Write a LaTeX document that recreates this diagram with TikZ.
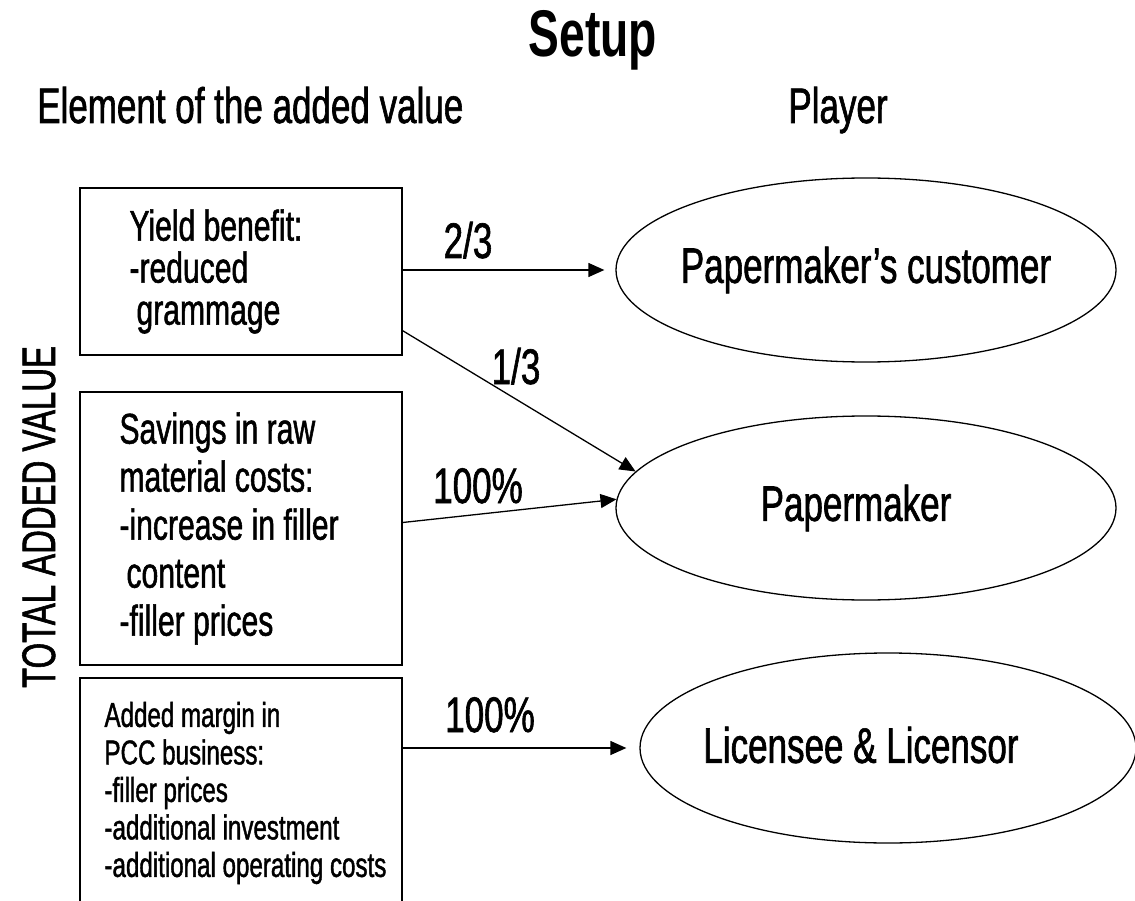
\documentclass[tikz,border=0pt]{standalone}
\usepackage{fontspec}
\setmainfont{Liberation Sans}[FakeStretch=0.7,UprightFeatures={FakeBold=1.2}]
\usetikzlibrary{arrows.meta,shapes.geometric,calc}

\tikzset{
  head/.style={inner sep=0pt,font=\fontsize{50}{55}\selectfont},
  elbox/.style={draw,line width=1.4pt,minimum width=322pt,inner sep=0pt},
  boxtxt/.style={anchor=west,align=left,inner sep=0pt},
  player/.style={draw,ellipse,line width=1.3pt,minimum width=500pt,minimum height=184pt,
    inner sep=0pt,font=\fontsize{50}{55}\selectfont},
  share/.style={-{Triangle[length=16pt,width=14pt]},line width=1.3pt},
  sharelbl/.style={anchor=base,inner sep=0pt,font=\fontsize{50}{55}\selectfont}
}

\begin{document}
\begin{tikzpicture}[x=1pt,y=-1pt]
\useasboundingbox (0,0) rectangle (1135,901);
\clip (0,0) rectangle (1135,901);

% titles
\node[head,anchor=base,font=\bfseries\fontsize{66}{70}\selectfont] (title) at (593,57) {Setup};
\node[head,anchor=base west] (elhead) at (37,123) {Element of the added value};
\node[head,anchor=base] (plhead) at (838,123) {Player};
\node[head,rotate=90,anchor=base,font=\fontsize{47}{50}\selectfont] (total) at (55,517) {TOTAL ADDED VALUE};

% elements
\node[elbox,minimum height=167pt] (yield) at (241,271.5) {};
\node[elbox,minimum height=273pt] (savings) at (241,528.5) {};
\node[elbox,minimum height=230pt] (margin) at (241,793) {};

\node[boxtxt,font=\fontsize{43}{42}\selectfont] (yieldtxt) at ([xshift=50pt]yield.west)
  {Yield benefit:\\-reduced\\\hspace*{7pt}grammage};
\node[boxtxt,font=\fontsize{43}{48}\selectfont] (savingstxt) at ([xshift=40pt]savings.west)
  {Savings in raw\\material costs:\\-increase in filler\\\hspace*{7pt}content\\-filler prices};
\node[boxtxt,font=\fontsize{34.5}{37.5}\selectfont] (margintxt) at ([xshift=25pt]margin.west)
  {Added margin in\\PCC business:\\-filler prices\\-additional investment\\-additional operating costs};

% players
\node[player] (cust) at (866,270) {\makebox[0pt]{Papermaker’s customer}};
\node[player] (pm) at (866,508) {\makebox[0pt]{Papermaker\hspace{20pt}}};
\node[player,minimum width=496pt,minimum height=190pt] (lic) at (888,748) {};
\node[head] (lictxt) at (861,745) {Licensee \& Licensor};

% shares
\draw[share,shorten >=11pt] (yield.east |- cust.west) -- (cust.west);
\draw[share] ([yshift=25pt]yield.south east) -- (pm.171);
\draw[share] ([yshift=6pt]savings.east) -- (pm.178);
\draw[share,shorten >=13pt] (margin.east |- lic.west) -- (lic.west);

\node[sharelbl] (twothirds) at (468,258) {2/3};
\node[sharelbl] (onethird) at (516,384) {1/3};
\node[sharelbl] (fullpm) at (478,503) {100\%};
\node[sharelbl] (fulllic) at (490,732) {100\%};
\end{tikzpicture}
\end{document}
